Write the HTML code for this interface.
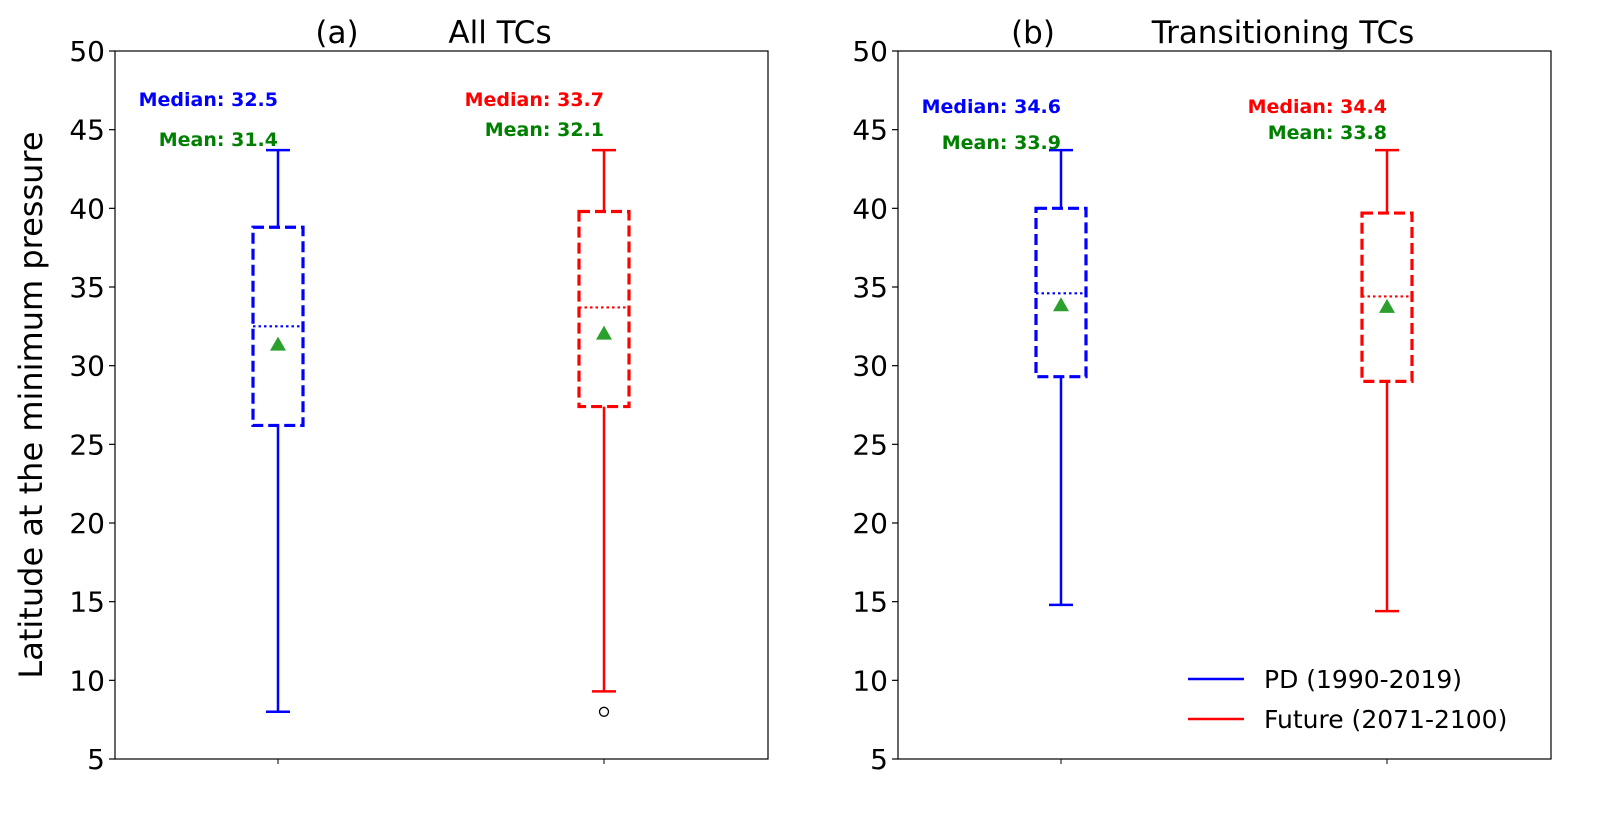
<!DOCTYPE html>
<html><head><meta charset="utf-8"><style>
body{margin:0;background:#fff;}
svg text{font-family:"DejaVu Sans","Liberation Sans",sans-serif;}
</style></head><body>
<svg id="chart" width="1615" height="813" xmlns="http://www.w3.org/2000/svg"></svg>
<script>
const panelLetters = ["(a)", "(b)"];
const panelTitles = ["All TCs", "Transitioning TCs"];
const seriesNames = ["PD (1990-2019)", "Future (2071-2100)"];
const seriesColors = ["blue", "red"];
const yTicks = [5,10,15,20,25,30,35,40,45,50];
// per panel, per series: [low whisker, Q1, median, Q3, high whisker]
const pdStats = [[8.0,26.2,32.5,38.8,43.7],[14.8,29.3,34.6,40.0,43.7]];
const futStats = [[9.3,27.4,33.7,39.8,43.7],[14.4,29.0,34.4,39.7,43.7]];
const pdMeans = [31.4,33.9];
const futMeans = [32.1,33.8];
const futOutliers = [[8.0],[]];
const pdOutliers = [[],[]];
const medianLabels = [["32.5","33.7"],["34.6","34.4"]];
const meanLabels = [["31.4","32.1"],["33.9","33.8"]];
const medYOffs=[[99,99],[106,106]], meanYOffs=[[139,129],[142,132]];

const svg=document.getElementById('chart');
const NS='http://www.w3.org/2000/svg';
function mk(tag,attrs,parent){const e=document.createElementNS(NS,tag);for(const k in attrs)e.setAttribute(k,attrs[k]);(parent||svg).appendChild(e);return e;}
const yTopPx=51,yBotPx=759,yMin=5,yMax=50;
function y(v){return yBotPx-(v-yMin)/(yMax-yMin)*(yBotPx-yTopPx);}
const panelsX=[115,898],pw=653;
const letterX=[337,1033], titleX=[500,1283];

panelsX.forEach((px,p)=>{
  const g=mk('g',{});
  
  
  const tl0=mk('text',{x:letterX[p],y:43,'font-size':31,'text-anchor':'middle'},g);
  
  
  tl0.textContent=panelLetters[p];
  const t=mk('text',{x:titleX[p],y:43,'font-size':31,'text-anchor':'middle'},g);
  
  
  t.textContent=panelTitles[p];
  const fr=mk('rect',{x:px,y:yTopPx,width:pw,height:yBotPx-yTopPx,fill:'none',stroke:'#000','stroke-width':1.2},g);
  
  
  yTicks.forEach(v=>{
    mk('line',{x1:px-6,x2:px,y1:y(v),y2:y(v),stroke:'#000','stroke-width':1.2},g);
    const tl=mk('text',{x:px-10,y:y(v)+10,'font-size':28,'text-anchor':'end'},g);
    
    
    tl.textContent=v;
  });
  const xs=[px+163,px+489];
  [pdStats,futStats].forEach((S,s)=>{
    const st=S[p],cx=xs[s],c=seriesColors[s],hw=25,cw=12;
    mk('line',{x1:cx,x2:cx,y1:yBotPx,y2:yBotPx+5,stroke:'#000','stroke-width':1},g);
    const bg=mk('g',{},g);
    
    
    mk('line',{x1:cx,x2:cx,y1:y(st[0]),y2:y(st[1]),stroke:c,'stroke-width':2.5},bg);
    mk('line',{x1:cx,x2:cx,y1:y(st[3]),y2:y(st[4]),stroke:c,'stroke-width':2.5},bg);
    mk('line',{x1:cx-cw,x2:cx+cw,y1:y(st[0]),y2:y(st[0]),stroke:c,'stroke-width':2.5},bg);
    mk('line',{x1:cx-cw,x2:cx+cw,y1:y(st[4]),y2:y(st[4]),stroke:c,'stroke-width':2.5},bg);
    mk('rect',{x:cx-hw,y:y(st[3]),width:2*hw,height:y(st[1])-y(st[3]),fill:'none',stroke:c,'stroke-width':3.2,'stroke-dasharray':'11,5'},bg);
    mk('line',{x1:cx-hw,x2:cx+hw,y1:y(st[2]),y2:y(st[2]),stroke:c,'stroke-width':2.2,'stroke-dasharray':'2.5,3'},bg);
    const m=(s===0?pdMeans:futMeans)[p],my=y(m);
    const tri=mk('polygon',{points:`${cx-8},${my+7} ${cx+8},${my+7} ${cx},${my-7}`,fill:'#2ca02c'},bg);
    
    
    (s===0?pdOutliers:futOutliers)[p].forEach(o=>{
      const oc=mk('circle',{cx:cx,cy:y(o),r:4.5,fill:'none',stroke:'#000','stroke-width':1.3},bg);
      
      
    });
    const a1=mk('text',{x:cx,y:medYOffs[p][s]+7,'font-size':19,'font-weight':'bold','text-anchor':'end',fill:c},g);
    
    
    a1.textContent='Median: '+medianLabels[p][s];
    const a2=mk('text',{x:cx,y:meanYOffs[p][s]+7,'font-size':19,'font-weight':'bold','text-anchor':'end',fill:'green'},g);
    
    
    a2.textContent='Mean: '+meanLabels[p][s];
  });
});
const yl=mk('text',{x:0,y:0,'font-size':32,'text-anchor':'middle',transform:'translate(42,405) rotate(-90)'});


yl.textContent='Latitude at the minimum pressure';
seriesNames.forEach((n,i)=>{
  const lg=mk('g',{});
  
  
  const ly=679+i*40;
  mk('line',{x1:1188,x2:1244,y1:ly,y2:ly,stroke:seriesColors[i],'stroke-width':2.5},lg);
  const t=mk('text',{x:1264,y:ly+9,'font-size':25},lg);
  t.textContent=n;
});
</script>
</body></html>
